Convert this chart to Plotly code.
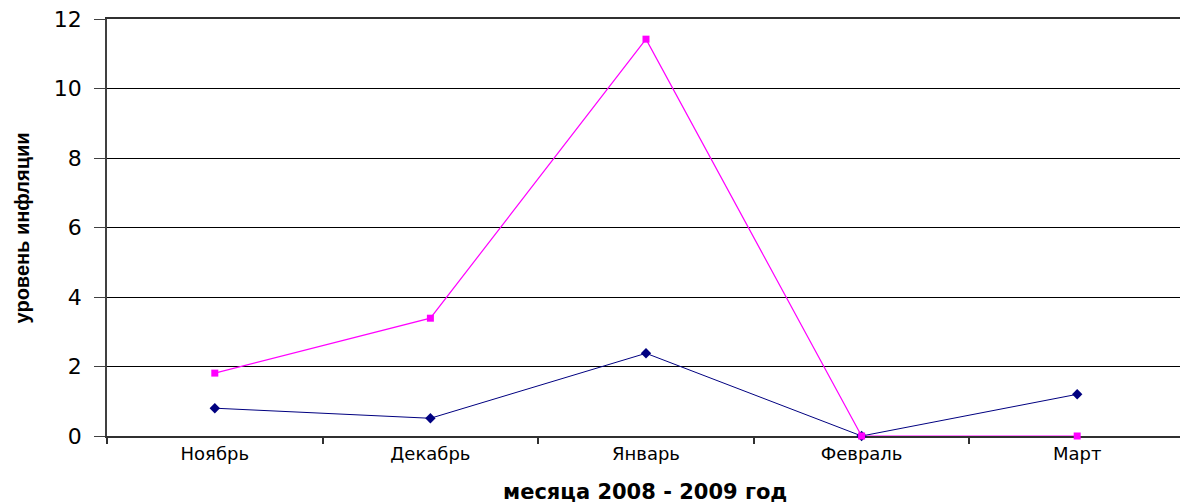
import plotly.graph_objects as go

months = ["Ноябрь", "Декабрь", "Январь", "Февраль", "Март"]
series_blue = [0.8, 0.51, 2.38, 0.0, 1.2]
series_magenta = [1.81, 3.39, 11.42, 0.0, 0.0]
y_ticks = [0, 2, 4, 6, 8, 10, 12]

fig = go.Figure()
fig.add_trace(go.Scatter(
    x=months, y=series_blue, mode="lines+markers",
    line=dict(color="#000080", width=1),
    marker=dict(symbol="diamond", size=8, color="#000080"),
    showlegend=False, cliponaxis=False))
fig.add_trace(go.Scatter(
    x=months, y=series_magenta, mode="lines+markers",
    line=dict(color="#FF00FF", width=1.2),
    marker=dict(symbol="square", size=7, color="#FF00FF"),
    showlegend=False, cliponaxis=False))

# page body has an 8px default margin, so the figure is sized to fit
fig.update_layout(
    width=1180, height=496,
    margin=dict(l=99, r=3, t=11, b=68),
    paper_bgcolor="white", plot_bgcolor="white",
    font=dict(family="DejaVu Sans, Arial, sans-serif", color="black"),
    xaxis=dict(
        type="category", categoryorder="array", categoryarray=months,
        range=[-0.5, 4.5], tickson="boundaries", automargin=False,
        ticks="outside", ticklen=6, tickcolor="#303030", tickwidth=2,
        showline=True, linecolor="#303030", linewidth=2, mirror=True,
        showgrid=False, tickfont=dict(size=18), layer="below traces",
    ),
    yaxis=dict(
        range=[0, 12], tickvals=y_ticks, automargin=False,
        ticks="outside", ticklen=11, tickcolor="#404040", tickwidth=1,
        showline=True, linecolor="#404040", linewidth=1.5, mirror=True,
        showgrid=True, gridcolor="black", gridwidth=1,
        zeroline=False, tickfont=dict(size=22),
        ticklabelstandoff=8, ticklabeloverflow="allow", layer="below traces",
    ),
    annotations=[
        dict(text="<b>уровень инфляции</b>", xref="paper", yref="paper",
             x=-0.0789, y=0.5, textangle=-90, showarrow=False,
             xanchor="center", yanchor="middle",
             font=dict(size=20, family="Liberation Sans Narrow, Arial Narrow, Arial")),
        dict(text="<b>месяца 2008 - 2009 год</b>", xref="paper", yref="paper",
             x=0.499, y=-0.134, showarrow=False,
             xanchor="center", yanchor="middle",
             font=dict(size=21, family="DejaVu Sans, Arial")),
    ],
)

fig.write_html("out.html")
